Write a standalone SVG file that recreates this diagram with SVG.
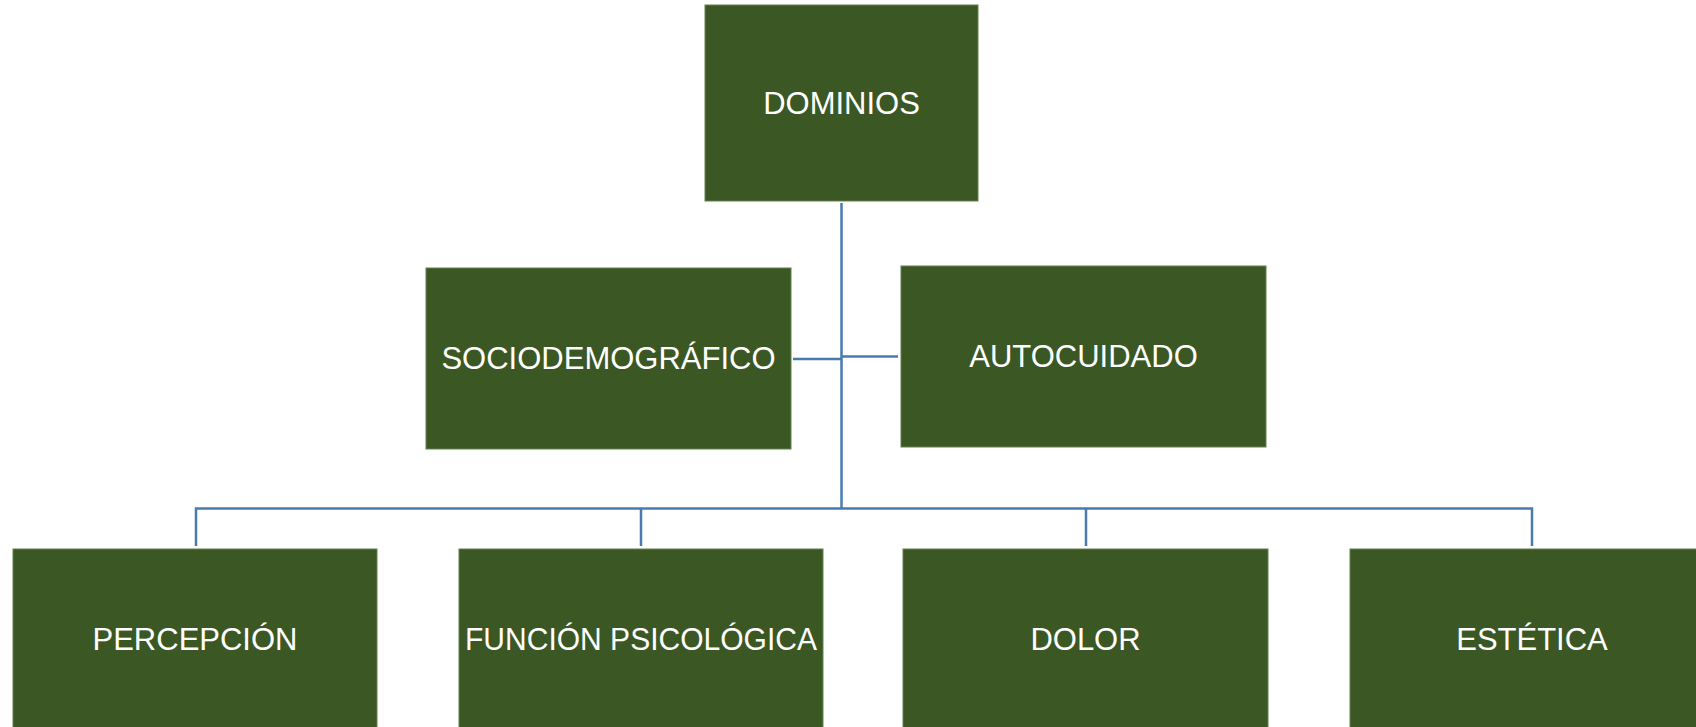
<svg xmlns="http://www.w3.org/2000/svg" width="1696" height="727" viewBox="0 0 1696 727">
<style>
.box{fill:#3b5724;stroke:#62804c;stroke-width:1}
.lbl{font-family:"Liberation Sans",Arial,sans-serif;font-size:31px;fill:#ffffff;text-anchor:middle}
.con{fill:none;stroke:#4a7ab0;stroke-width:2.5}
</style>
<rect width="1696" height="727" fill="#ffffff"/>
<g id="connectors">
<path class="con" d="M841.5 203 V508.5"/>
<path class="con" d="M793 359 H841.5"/>
<path class="con" d="M841.5 356.5 H898"/>
<path class="con" d="M196 546 V508.5 H1532 V546"/>
<path class="con" d="M641 508.5 V546"/>
<path class="con" d="M1086 508.5 V546"/>
</g>
<g id="dominios">
<rect class="box" x="705" y="5" width="273" height="196"/>
<text class="lbl" x="841.5" y="114">DOMINIOS</text>
</g>
<g id="sociodemografico">
<rect class="box" x="426" y="268" width="365" height="181"/>
<text class="lbl" x="608.5" y="369">SOCIODEMOGRÁFICO</text>
</g>
<g id="autocuidado">
<rect class="box" x="901" y="266" width="365" height="181"/>
<text class="lbl" x="1083.5" y="367">AUTOCUIDADO</text>
</g>
<g id="percepcion">
<rect class="box" x="13" y="549" width="364" height="182"/>
<text class="lbl" x="195" y="650">PERCEPCIÓN</text>
</g>
<g id="funcion-psicologica">
<rect class="box" x="459" y="549" width="364" height="182"/>
<text class="lbl" x="641" y="650" textLength="352" lengthAdjust="spacingAndGlyphs">FUNCIÓN PSICOLÓGICA</text>
</g>
<g id="dolor">
<rect class="box" x="903" y="549" width="365" height="182"/>
<text class="lbl" x="1085.5" y="650">DOLOR</text>
</g>
<g id="estetica">
<rect class="box" x="1350" y="549" width="365" height="182"/>
<text class="lbl" x="1532" y="650">ESTÉTICA</text>
</g>
</svg>
